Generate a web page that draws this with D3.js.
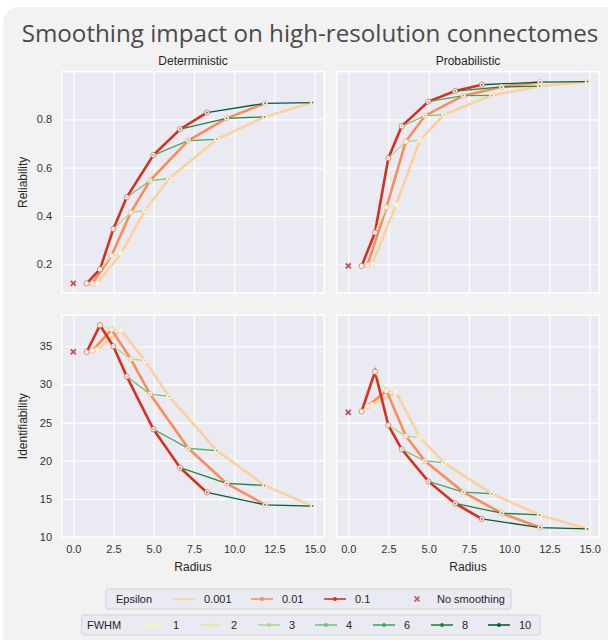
<!DOCTYPE html>
<html>
<head>
<meta charset="utf-8">
<script src="https://cdn.jsdelivr.net/npm/d3@7"></script>
<style>
  body { margin: 0; background: #fff; }
  text { font-family: "Liberation Sans", Arial, sans-serif; }
</style>
</head>
<body>
<svg id="chart" width="608" height="640"></svg>
<script>
// smoothing settings
const fwhm = [1, 2, 3, 4, 6, 8, 10];
const epsilons = ["0.001", "0.01", "0.1"];

// kernel radius for each epsilon (one value per fwhm)
const radiusEps0001 = [1.49, 2.97, 4.46, 5.95, 8.92, 11.89, 14.87];
const radiusEps001 = [1.19, 2.38, 3.57, 4.77, 7.15, 9.53, 11.92];
const radiusEps01 = [0.83, 1.66, 2.49, 3.32, 4.98, 6.64, 8.30];

// reliability, deterministic
const detRel0001 = [0.121, 0.245, 0.423, 0.554, 0.717, 0.810, 0.869];
const detRel001 = [0.121, 0.236, 0.414, 0.546, 0.712, 0.804, 0.866];
const detRel01 = [0.121, 0.179, 0.346, 0.477, 0.652, 0.759, 0.828];
// reliability, probabilistic
const probRel0001 = [0.201, 0.446, 0.714, 0.819, 0.899, 0.937, 0.956];
const probRel001 = [0.197, 0.436, 0.708, 0.815, 0.898, 0.934, 0.954];
const probRel01 = [0.193, 0.331, 0.639, 0.771, 0.873, 0.917, 0.943];
// identifiability, deterministic
const detId0001 = [34.56, 37.10, 33.11, 28.42, 21.32, 16.75, 14.04];
const detId001 = [34.43, 37.19, 33.33, 28.73, 21.62, 17.02, 14.21];
const detId01 = [34.25, 37.76, 35.00, 31.05, 24.12, 19.08, 15.83];
// identifiability, probabilistic
const probId0001 = [27.32, 28.95, 23.03, 19.74, 15.66, 12.89, 11.05];
const probId001 = [27.15, 29.17, 23.25, 19.96, 15.88, 13.11, 11.23];
const probId01 = [26.45, 31.67, 24.65, 21.49, 17.28, 14.39, 12.37];

// no smoothing baseline (radius 0)
const noSmoothRel = [0.121, 0.193];   // det, prob
const noSmoothId = [34.25, 26.32];    // det, prob

const xTicks = [0, 2.5, 5, 7.5, 10, 12.5, 15];
const relTicks = [0.2, 0.4, 0.6, 0.8];
const idTicks = [10, 15, 20, 25, 30, 35];

const epsColors = ["#fdd09c", "#fc8d59", "#d7301f"];
const fwhmColors = ["#f1f9b2", "#d6efa0", "#aadb8d", "#77c478", "#41ab5d", "#1f8442", "#015f33"];
const noSmoothColor = "#c44e52";

const svg = d3.select("#chart");

// figure background
svg.append("rect")
    .attr("x", 3).attr("y", 7)
    .attr("width", 620).attr("height", 650)
    .attr("rx", 16)
    .attr("fill", "#f2f2f2");

svg.append("text")
    .attr("x", 310).attr("y", 42)
    .attr("text-anchor", "middle")
    .style("font-family", "'Open Sans', 'Noto Sans', sans-serif")
    .attr("font-size", "24.2px")
    .attr("fill", "#4a4a4a")
    .text("Smoothing impact on high-resolution connectomes");

const cols = [{ x0: 61.7, x1: 324.3, title: "Deterministic" },
              { x0: 336.7, x1: 599.3, title: "Probabilistic" }];
const rows = [{ y0: 71.7, y1: 293, domain: [0.081, 0.997], ticks: relTicks, fmt: d3.format(".1f"), label: "Reliability" },
              { y0: 315, y1: 537.3, domain: [9.95, 39.1], ticks: idTicks, fmt: d3.format("d"), label: "Identifiability" }];

const radii = [radiusEps0001, radiusEps001, radiusEps01];
const values = [
    [[detRel0001, detRel001, detRel01], [probRel0001, probRel001, probRel01]],
    [[detId0001, detId001, detId01], [probId0001, probId001, probId01]]
];
const baseline = [noSmoothRel, noSmoothId];

rows.forEach((row, r) => {
    cols.forEach((col, c) => {
        const x = d3.scaleLinear().domain([-0.72, 15.6]).range([col.x0, col.x1]);
        const y = d3.scaleLinear().domain(row.domain).range([row.y1, row.y0]);
        const g = svg.append("g");

        g.append("rect")
            .attr("x", col.x0).attr("y", row.y0)
            .attr("width", col.x1 - col.x0).attr("height", row.y1 - row.y0)
            .attr("fill", "#eaeaf2")
            .attr("stroke", "#fff").attr("stroke-width", 1.5);

        // grid
        const gx = g.append("g")
            .attr("transform", `translate(0,${row.y1})`)
            .call(d3.axisBottom(x).tickValues(xTicks).tickSize(-(row.y1 - row.y0))
                .tickFormat(r === 1 ? d3.format(".1f") : ""));
        gx.select(".domain").remove();
        gx.selectAll("line").attr("stroke", "#fff").attr("stroke-width", 1.2);
        gx.selectAll("text").attr("fill", "#333").attr("font-size", "11px").attr("dy", "1.2em")
            .style("font-family", "'Liberation Sans', Arial, sans-serif");

        const gy = g.append("g")
            .attr("transform", `translate(${col.x0},0)`)
            .call(d3.axisLeft(y).tickValues(row.ticks).tickSize(-(col.x1 - col.x0))
                .tickFormat(c === 0 ? row.fmt : ""));
        gy.select(".domain").remove();
        gy.selectAll("line").attr("stroke", "#fff").attr("stroke-width", 1.2);
        gy.selectAll("text").attr("fill", "#333").attr("font-size", "11px").attr("dx", "-0.6em")
            .style("font-family", "'Liberation Sans', Arial, sans-serif");

        if (r === 0) {
            svg.append("text")
                .attr("x", (col.x0 + col.x1) / 2).attr("y", 65)
                .attr("text-anchor", "middle")
                .attr("font-size", "12px").attr("fill", "#262626")
                .text(col.title);
        } else {
            svg.append("text")
                .attr("x", (col.x0 + col.x1) / 2).attr("y", 571)
                .attr("text-anchor", "middle")
                .attr("font-size", "12px").attr("fill", "#262626")
                .text("Radius");
        }
        if (c === 0) {
            svg.append("text")
                .attr("transform", `translate(27,${(row.y0 + row.y1) / 2}) rotate(-90)`)
                .attr("text-anchor", "middle")
                .attr("font-size", "12px").attr("fill", "#262626")
                .text(row.label);
        }

        const line = d3.line().x(d => x(d[0])).y(d => y(d[1]));
        const series = values[r][c];

        // epsilon curves
        series.forEach((vals, e) => {
            const pts = vals.map((v, i) => [radii[e][i], v]);
            g.append("path")
                .attr("d", line(pts))
                .attr("fill", "none")
                .attr("stroke", epsColors[e])
                .attr("stroke-width", 2.6);
        });

        // fwhm curves across epsilon
        fwhm.forEach((f, i) => {
            const pts = series.map((vals, e) => [radii[e][i], vals[i]]);
            g.append("path")
                .attr("d", line(pts))
                .attr("fill", "none")
                .attr("stroke", fwhmColors[i])
                .attr("stroke-width", 1.3);
        });

        // point markers: pale ring in epsilon colour, small fwhm dot inside
        series.forEach((vals, e) => {
            g.selectAll(null)
                .data(vals)
                .enter().append("circle")
                .attr("cx", (d, i) => x(radii[e][i]))
                .attr("cy", d => y(d))
                .attr("r", 2.6)
                .attr("fill", "#fbfbf6")
                .attr("stroke", epsColors[e])
                .attr("stroke-opacity", 0.55)
                .attr("stroke-width", 1);
            g.selectAll(null)
                .data(vals)
                .enter().append("circle")
                .attr("cx", (d, i) => x(radii[e][i]))
                .attr("cy", d => y(d))
                .attr("r", 1)
                .attr("fill", (d, i) => fwhmColors[i])
                .attr("opacity", 0.8);
        });

        // no smoothing marker
        const bx = x(0), by = y(baseline[r][c]);
        g.append("path")
            .attr("d", `M${bx - 2.5},${by - 2.5}L${bx + 2.5},${by + 2.5}M${bx - 2.5},${by + 2.5}L${bx + 2.5},${by - 2.5}`)
            .attr("stroke", noSmoothColor)
            .attr("stroke-width", 1.8);
    });
});

// legends
function legendBox(x0, x1, y0, y1) {
    svg.append("rect")
        .attr("x", x0).attr("y", y0)
        .attr("width", x1 - x0).attr("height", y1 - y0)
        .attr("rx", 2)
        .attr("fill", "#eaeaf2")
        .attr("stroke", "#d3d3d8").attr("stroke-width", 1);
}

function legendEntry(hx, y, color, label) {
    svg.append("line")
        .attr("x1", hx).attr("x2", hx + 22)
        .attr("y1", y).attr("y2", y)
        .attr("stroke", color).attr("stroke-width", 1.6);
    svg.append("circle")
        .attr("cx", hx + 11).attr("cy", y).attr("r", 2)
        .attr("fill", color);
    svg.append("text")
        .attr("x", hx + 31).attr("y", y + 4)
        .attr("font-size", "11px").attr("fill", "#262626")
        .text(label);
}

legendBox(106, 511, 589, 609);
const epsY = 599;
svg.append("text").attr("x", 116).attr("y", epsY + 4)
    .attr("font-size", "11px").attr("fill", "#262626").text("Epsilon");
const epsHandleX = [173, 251, 324];
epsilons.forEach((e, i) => legendEntry(epsHandleX[i], epsY, epsColors[i], e));
svg.append("path")
    .attr("d", `M414.5,${epsY - 2.5}L419.5,${epsY + 2.5}M414.5,${epsY + 2.5}L419.5,${epsY - 2.5}`)
    .attr("stroke", noSmoothColor).attr("stroke-width", 1.6);
svg.append("text").attr("x", 437).attr("y", epsY + 4)
    .attr("font-size", "11px").attr("fill", "#262626").text("No smoothing");

legendBox(81.7, 540, 615, 635);
const fwhmY = 625;
svg.append("text").attr("x", 87).attr("y", fwhmY + 4)
    .attr("font-size", "11px").attr("fill", "#262626").text("FWHM");
const fwhmHandleX = [142, 200, 258, 315, 373, 431, 488];
fwhm.forEach((f, i) => legendEntry(fwhmHandleX[i], fwhmY, fwhmColors[i], String(f)));
</script>
</body>
</html>
